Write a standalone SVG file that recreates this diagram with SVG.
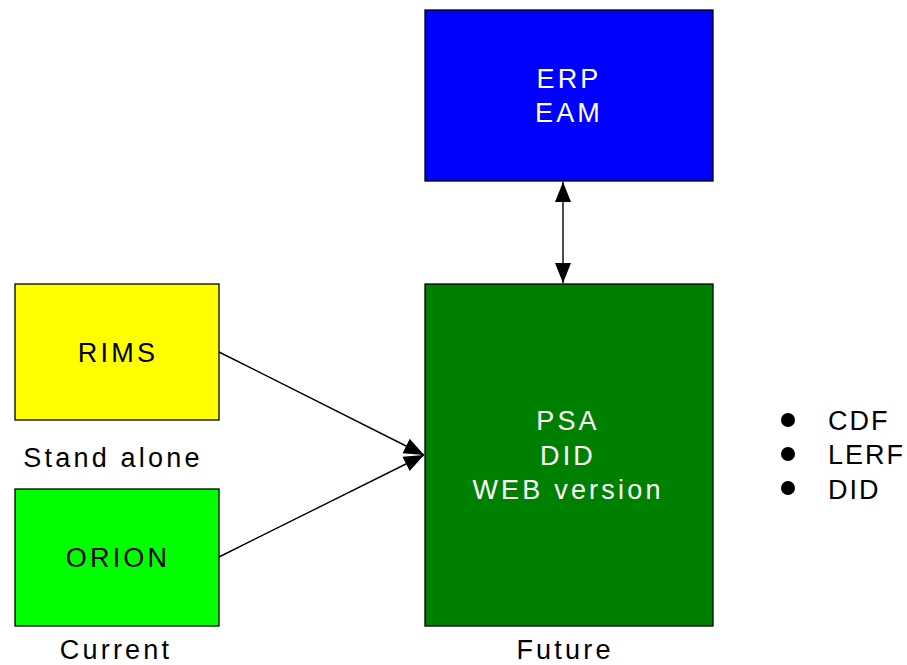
<svg xmlns="http://www.w3.org/2000/svg" width="907" height="665" viewBox="0 0 907 665">
<style>
.box{stroke:#000;stroke-width:1.3}
.t{font-family:"Liberation Sans",Arial,sans-serif;font-size:27px;letter-spacing:3.2px;text-anchor:middle}
.w{fill:#fff}
.k{fill:#000}
.l{font-family:"Liberation Sans",Arial,sans-serif;font-size:27px;letter-spacing:2px;fill:#000}
.c{stroke:#000;stroke-width:1.4;fill:none}
</style>
<defs>
<marker id="ah" markerUnits="userSpaceOnUse" markerWidth="22" markerHeight="18" refX="20" refY="9" orient="auto-start-reverse" viewBox="0 0 22 18">
<path d="M0,1 L20,9 L0,17 Z" fill="#000"/>
</marker>
</defs>
<g id="erp">
<rect class="box" x="425" y="10" width="288" height="171" fill="#0000ff"/>
<text class="t w" x="569" y="88">ERP</text>
<text class="t w" x="569" y="122">EAM</text>
</g>
<g id="psa">
<rect class="box" x="425" y="284" width="288" height="342" fill="#008000"/>
<text class="t w" x="568" y="430">PSA</text>
<text class="t w" x="568" y="465">DID</text>
<text class="t w" x="568" y="499">WEB version</text>
</g>
<g id="rims">
<rect class="box" x="15" y="284" width="204" height="136" fill="#ffff00"/>
<text class="t k" x="118" y="362">RIMS</text>
</g>
<g id="orion">
<rect class="box" x="15" y="489" width="204" height="137" fill="#00ff00"/>
<text class="t k" x="118" y="567">ORION</text>
</g>
<g id="labels">
<text class="t k" x="113" y="467">Stand alone</text>
<text class="t k" x="116" y="659">Current</text>
<text class="t k" x="565" y="659">Future</text>
</g>
<g id="bullets">
<circle cx="788" cy="420" r="7" fill="#000"/>
<circle cx="788" cy="454" r="7" fill="#000"/>
<circle cx="788" cy="488" r="7" fill="#000"/>
<text class="l" x="828" y="430">CDF</text>
<text class="l" x="828" y="464">LERF</text>
<text class="l" x="828" y="499">DID</text>
</g>
<g id="connectors">
<line class="c" x1="563" y1="182" x2="563" y2="283" marker-start="url(#ah)" marker-end="url(#ah)"/>
<line class="c" x1="219" y1="352" x2="424" y2="455" marker-end="url(#ah)"/>
<line class="c" x1="219" y1="557" x2="424" y2="455" marker-end="url(#ah)"/>
</g>
</svg>
